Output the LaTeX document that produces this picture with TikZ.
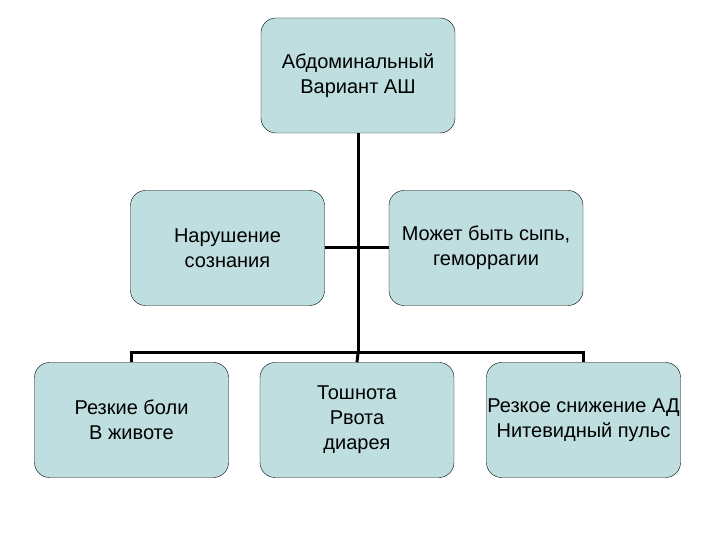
\documentclass[tikz,border=0pt]{standalone}
\usepackage{fontspec}
\setmainfont{Liberation Sans}
\usetikzlibrary{positioning}
\definecolor{bloque}{RGB}{190,222,224}
\tikzset{
    caja/.style={draw=black, fill=bloque, rounded corners=15pt, minimum width=194pt,
        minimum height=115pt, inner sep=0pt, align=center,
        font=\fontsize{20}{25}\selectfont},
    enlace/.style={line width=3pt},
}

\begin{document}
\begin{tikzpicture}[x=1pt,y=1pt]
\useasboundingbox (0,0) rectangle (720,540);
\node[caja] (raiz) at (358,464.5) {Абдоминальный\\Вариант АШ};
\node[caja] (sueno) at (227.5,292) {Нарушение\\сознания};
\node[caja] (piel) at (486,292) {Может быть сыпь,\\геморрагии};
\node[caja] (dolor) at (131.5,120) {Резкие боли\\В животе};
\node[caja] (vomito) at (357,120) {Тошнота\\Рвота\\диарея};
\node[caja] (presion) at (583.5,120) {Резкое снижение АД\\Нитевидный пульс};
\coordinate (centro) at (358,187);
\begin{scope}[on background layer/.try]
\draw[enlace] (raiz.south) -- (centro);
\draw[enlace] (sueno.east) -- (piel.west);
\draw[enlace] (dolor.north) |- (centro) -| (presion.north);
\draw[enlace] (centro) -- (vomito.north);
\end{scope}
\end{tikzpicture}
\end{document}
